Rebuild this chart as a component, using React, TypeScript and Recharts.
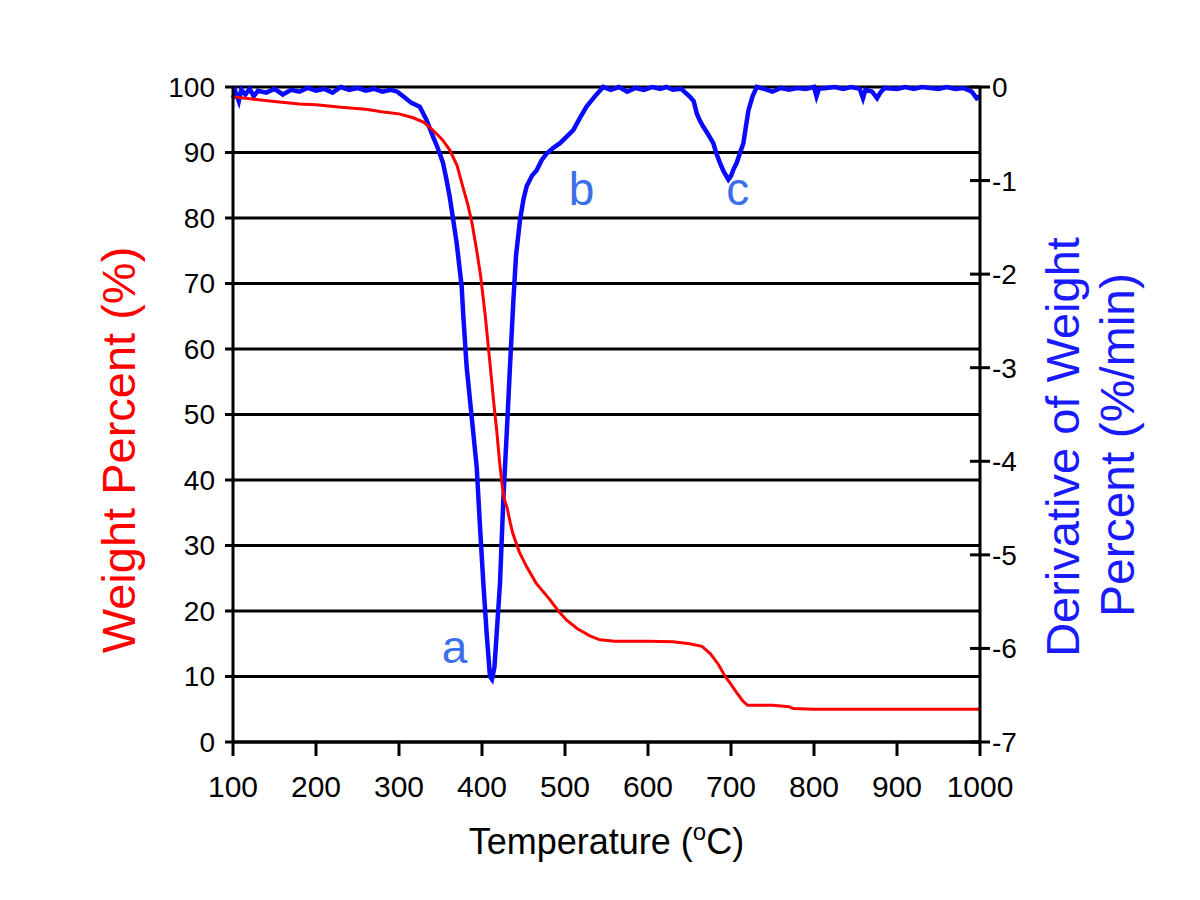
import { LineChart, Line, XAxis, YAxis, CartesianGrid, ReferenceDot } from 'recharts';

// TGA weight curve (red, left axis)
const weightTemps = [
  100, 120, 150, 180, 200, 230, 260, 281, 300, 317, 330, 341, 352, 361, 370, 377, 383, 388, 393, 398,
  404, 410, 414, 418, 421, 424, 427, 430, 434, 437, 445, 454, 465, 482, 492, 502, 515, 530, 542, 560,
  600, 630, 650, 665, 675, 685, 693, 700, 707, 714, 720, 750, 770, 775, 800, 900, 1000,
];
const weightValues = [
  98.5, 98.2, 97.8, 97.4, 97.3, 96.9, 96.6, 96.2, 95.9, 95.3, 94.6, 93.4, 92.0, 90.4, 88.0, 84.7, 82.0, 79.2, 75.5, 71.5,
  65, 57.3, 52, 47.2, 43, 39.5, 37, 35.9, 33.5, 31.9, 29.0, 26.7, 24.3, 21.7, 20.0, 18.6, 17.3, 16.2, 15.6, 15.4,
  15.4, 15.3, 15.0, 14.6, 13.5, 11.8, 10.0, 8.8, 7.5, 6.3, 5.6, 5.6, 5.4, 5.1, 5.0, 5.0, 5.0,
];

// DTG derivative curve (blue, right axis)
const derivTemps = [
  100, 103, 107, 110, 115, 120, 125, 130, 140, 150, 160, 170, 180, 190, 200, 210, 220, 230, 240, 250,
  260, 270, 280, 290, 298, 305, 315, 325, 333, 341, 347, 353, 357, 361, 365, 369.5, 372.5, 375.5, 377.5, 381.5,
  387.5, 393.6, 397.6, 401.6, 405.6, 409.6, 412, 415, 417.7, 421.7, 425.7, 429.8, 433.7, 437.7, 441, 445.8, 450, 453.8, 460, 465.9,
  472, 478, 486, 494, 502, 510, 518, 526, 536, 546, 555, 565, 575, 585, 595, 605, 615, 622, 630, 640,
  650, 655, 658.7, 662, 666.3, 672, 678.7, 682, 686.7, 691, 696.8, 700, 703, 706.9, 711, 714.9, 718, 721, 726, 731,
  740, 750, 760, 770, 780, 790, 800, 803, 806, 815, 825, 835, 845, 855, 859, 862, 870, 876, 880, 885,
  900, 910, 920, 930, 940, 950, 960, 970, 980, 990, 996, 1000,
];
const derivValues = [
  -0.12, -0.05, -0.15, -0.03, -0.08, -0.02, -0.1, -0.04, -0.06, -0.02, -0.08, -0.03, -0.05, -0.01, -0.04, -0.02, -0.06, 0, -0.03, -0.01,
  -0.04, -0.02, -0.05, -0.03, -0.05, -0.1, -0.17, -0.21, -0.35, -0.53, -0.66, -0.81, -0.98, -1.17, -1.4, -1.67, -1.9, -2.13, -2.45, -2.99,
  -3.52, -4.06, -4.7, -5.3, -5.84, -6.3, -6.33, -6.2, -5.84, -5.3, -4.41, -3.7, -2.99, -2.3, -1.8, -1.42, -1.2, -1.06, -0.95, -0.89,
  -0.78, -0.71, -0.65, -0.6, -0.53, -0.46, -0.33, -0.21, -0.1, 0, -0.03, 0, -0.05, -0.01, -0.03, 0, -0.02, 0, -0.03, -0.02,
  -0.1, -0.15, -0.28, -0.35, -0.42, -0.5, -0.6, -0.7, -0.81, -0.9, -0.99, -0.95, -0.88, -0.81, -0.7, -0.6, -0.42, -0.25, -0.1, 0,
  -0.02, -0.05, -0.01, -0.03, -0.01, -0.02, 0, -0.1, -0.02, -0.01, 0, -0.02, 0, -0.02, -0.12, -0.03, -0.05, -0.12, -0.06, -0.01,
  -0.02, 0, -0.02, 0, -0.01, -0.02, 0, -0.02, -0.01, -0.05, -0.12, -0.1,
];

const xTicks = [100, 200, 300, 400, 500, 600, 700, 800, 900, 1000];
const leftTicks = [0, 10, 20, 30, 40, 50, 60, 70, 80, 90, 100];
const rightTicks = [-7, -6, -5, -4, -3, -2, -1, 0];

const peaks = [
  { label: 'a', t: 367, w: 14.5 },
  { label: 'b', t: 520, w: 84.5 },
  { label: 'c', t: 708, w: 84.5 },
];

const weightData = weightTemps.map((t, i) => ({ t, w: weightValues[i] }));
const derivData = derivTemps.map((t, i) => ({ t, d: derivValues[i] }));

const FONT = '"Liberation Sans Narrow", "Liberation Sans", Arial, sans-serif';

const RightTick = ({ x, y, payload }: any) => (
  <g>
    <line x1={x - 10} x2={x + 10} y1={y} y2={y} stroke="#000" strokeWidth={3} />
    <text x={x + 12} y={y} dy={10} fontSize={28} fontFamily={FONT} fill="#000">
      {payload.value}
    </text>
  </g>
);

const XTitle = ({ viewBox }: any) => {
  const cx = viewBox.x + viewBox.width / 2;
  return (
    <text x={cx} y={viewBox.y + 112} textAnchor="middle" fontSize={36} fontFamily={FONT} fill="#000">
      Temperature (
      <tspan fontSize={24} dy={-14}>o</tspan>
      <tspan dy={14}>C)</tspan>
    </text>
  );
};

export default function App() {
  return (
    <div style={{ position: 'absolute', left: 0, top: 0, background: '#fff' }}>
      <LineChart width={1200} height={900} margin={{ top: 87, right: 120, left: 133, bottom: 98 }}>
        <CartesianGrid yAxisId="left" vertical={false} stroke="#000" strokeWidth={3} horizontalValues={leftTicks} />
        <XAxis
          dataKey="t"
          type="number"
          domain={[100, 1000]}
          ticks={xTicks}
          height={60}
          allowDuplicatedCategory={false}
          stroke="#000"
          axisLine={{ strokeWidth: 3 }}
          tickLine={{ strokeWidth: 3 }}
          tickSize={14}
          tickMargin={20}
          tick={{ fill: '#000', fontSize: 30, fontFamily: FONT }}
          label={<XTitle />}
        />
        <YAxis
          yAxisId="left"
          domain={[0, 100]}
          ticks={leftTicks}
          width={100}
          stroke="#000"
          axisLine={{ strokeWidth: 3 }}
          tickLine={{ strokeWidth: 3 }}
          tickSize={8}
          tickMargin={10}
          tick={{ fill: '#000', fontSize: 28, fontFamily: FONT }}
        />
        <YAxis
          yAxisId="right"
          orientation="right"
          domain={[-7, 0]}
          ticks={rightTicks}
          width={100}
          stroke="#000"
          axisLine={{ strokeWidth: 3 }}
          tickLine={false}
          tickSize={0}
          tickMargin={0}
          tick={<RightTick />}
        />
        <Line
          yAxisId="right"
          data={derivData}
          dataKey="d"
          type="linear"
          stroke="#0a0aff"
          strokeWidth={4.5}
          dot={false}
          isAnimationActive={false}
        />
        <Line
          yAxisId="left"
          data={weightData}
          dataKey="w"
          type="linear"
          stroke="#ff0000"
          strokeWidth={3}
          dot={false}
          isAnimationActive={false}
        />
        {peaks.map((p) => (
          <ReferenceDot
            key={p.label}
            yAxisId="left"
            x={p.t}
            y={p.w}
            r={0}
            shape={(props: any) => (
              <text
                x={props.cx}
                y={props.cy}
                dy={16}
                textAnchor="middle"
                fontSize={46}
                fontFamily='"Liberation Sans", Arial, sans-serif'
                fill="#3b6fe8"
              >
                {p.label}
              </text>
            )}
          />
        ))}
        <text
          x={118}
          y={450}
          transform="rotate(-90 118 450)"
          textAnchor="middle"
          dominantBaseline="central"
          fontSize={47}
          fontFamily={FONT}
          fill="#ff0000"
        >
          Weight Percent (%)
        </text>
        <text
          x={1062}
          y={447}
          transform="rotate(-90 1062 447)"
          textAnchor="middle"
          dominantBaseline="central"
          fontSize={47}
          fontFamily={FONT}
          fill="#1a1aff"
        >
          Derivative of Weight
        </text>
        <text
          x={1117}
          y={445}
          transform="rotate(-90 1117 445)"
          textAnchor="middle"
          dominantBaseline="central"
          fontSize={48}
          fontFamily={FONT}
          fill="#1a1aff"
        >
          Percent (%/min)
        </text>
      </LineChart>
    </div>
  );
}
